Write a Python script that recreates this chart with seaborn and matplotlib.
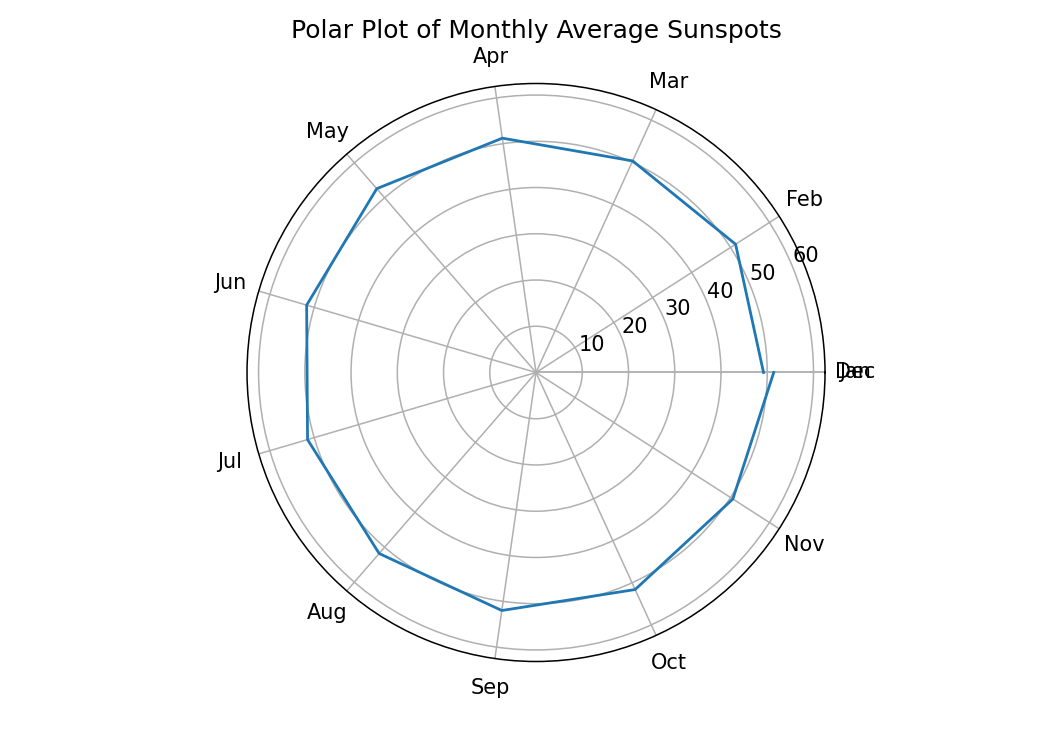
"""Polar plot of monthly average sunspots."""

import matplotlib
matplotlib.use("Agg")
import matplotlib.pyplot as plt
import numpy as np
import seaborn as sns

months = ["Jan", "Feb", "Mar", "Apr", "May", "Jun",
          "Jul", "Aug", "Sep", "Oct", "Nov", "Dec"]
avg_sunspots = [49.2, 51.3, 50.3, 51.2, 52.6, 51.7,
                51.5, 51.8, 52.0, 51.6, 50.6, 51.4]
radial_ticks = [10, 20, 30, 40, 50, 60]
r_max = 62.5


def main() -> None:
    theta = np.linspace(0, 2 * np.pi, len(months))

    fig = plt.figure(figsize=(10.37, 7.35), dpi=100)
    ax = fig.add_axes([0.2382, 0.1, 0.5574, 0.7864], projection="polar")

    sns.lineplot(x=theta, y=avg_sunspots, ax=ax, color="#1f77b4", linewidth=2.0)

    ax.set_xticks(theta)
    ax.set_xticklabels(months, fontsize=15)
    ax.set_yticks(radial_ticks)
    ax.set_yticklabels([str(t) for t in radial_ticks], fontsize=15)
    ax.set_ylim(0, r_max)
    ax.grid(True, color="#b0b0b0", linewidth=1.1)
    ax.spines["polar"].set_linewidth(1.1)
    ax.tick_params(axis="x", pad=11)
    ax.set_xlabel("")
    ax.set_ylabel("")
    ax.set_title("Polar Plot of Monthly Average Sunspots", fontsize=18, pad=33)

    fig.savefig("out.png", dpi=100)
    plt.close(fig)


if __name__ == "__main__":
    main()
